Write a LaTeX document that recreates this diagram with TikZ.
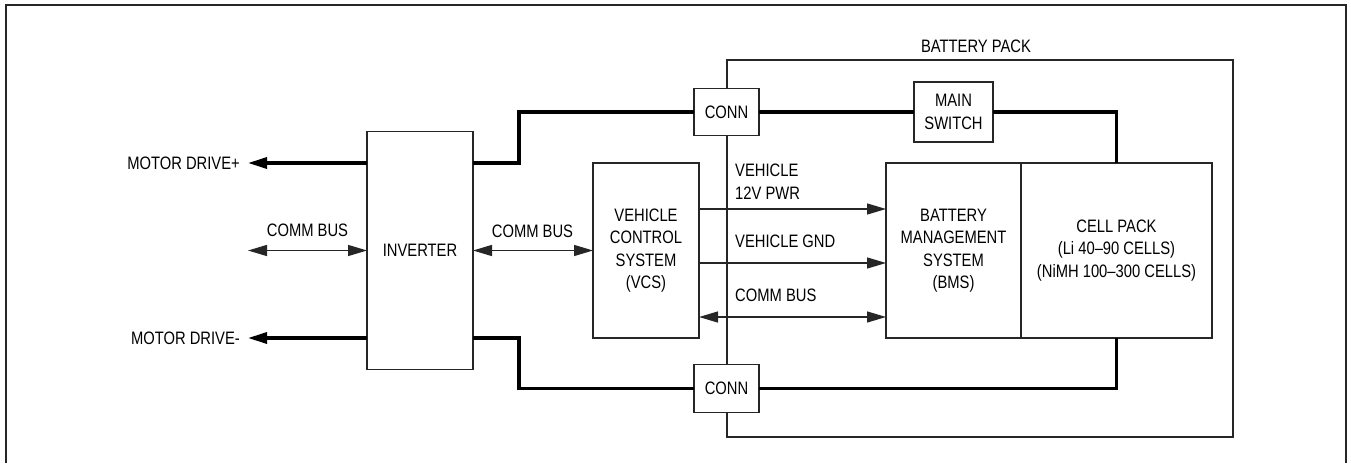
\documentclass[tikz,border=0pt]{standalone}
\usepackage{fontspec}
\setmainfont{Liberation Sans}[FakeStretch=0.82]
\usetikzlibrary{arrows.meta, positioning}
\newcommand{\blkfont}{\fontsize{18}{22.5}\selectfont}
\tikzset{
  block/.style={draw=black!85, line width=1.3pt, fill=white, inner sep=0pt,
                outer sep=0pt, align=center, font=\blkfont},
  lbl/.style={inner sep=0pt, align=left, font=\blkfont},
  wire/.style={line width=3.2pt, black},
  sig/.style={line width=1.3pt, black!85, -{Triangle[length=19pt, width=11pt]}},
  bus/.style={line width=1.3pt, black!85,
              {Triangle[length=19pt, width=11pt]}-{Triangle[length=19pt, width=11pt]}},
}

\begin{document}
\begin{tikzpicture}[x=1pt, y=-1pt]
  \useasboundingbox (0,0) rectangle (1351,463);
  % frame
  \draw[line width=2pt, black!85] (6,463) -- (6,5) -- (1346,5) -- (1346,463);

  % battery pack enclosure
  \node[draw=black!85, line width=1.3pt, minimum width=506pt, minimum height=377pt,
        inner sep=0pt, outer sep=0pt] (pack) at (980,248.5) {};
  \node[lbl, anchor=base] (packlbl) at (976,52) {BATTERY PACK};

  % main blocks
  \node[block, minimum width=106pt, minimum height=238pt] (inv) at (420,250.5) {INVERTER};
  \node[block, minimum width=106pt, minimum height=175pt] (vcs) at (646,250.5)
    {VEHICLE\\CONTROL\\SYSTEM\\(VCS)};
  \node[block, minimum width=135pt, minimum height=175pt] (bms) at (953.5,250.5)
    {BATTERY\\MANAGEMENT\\SYSTEM\\(BMS)};
  \node[block, minimum width=191pt, minimum height=175pt, right=0pt of bms] (cell)
    {CELL PACK\\(Li 40–90 CELLS)\\(NiMH 100–300 CELLS)};
  \node[block, minimum width=79pt, minimum height=60pt] (msw) at (953.5,112) {MAIN\\SWITCH};
  \node[block, minimum width=65pt, minimum height=47pt] (connT) at (726.5,112) {CONN};
  \node[block, minimum width=65pt, minimum height=48pt] (connB) at (726.5,388.5) {CONN};

  % high voltage wiring
  \draw[wire] (inv.east |- vcs.north) -- ++(46,0) |- (connT.west);
  \draw[wire] (connT.east) -- (msw.west);
  \draw[wire] (msw.east) -| (cell.north);
  \draw[wire] (inv.east |- vcs.south) -- ++(46,0) |- (connB.west);
  \draw[wire] (connB.east) -| (cell.south);

  % motor outputs
  \node[lbl, anchor=east, inner xsep=8pt] (mdp) at (248,163) {MOTOR DRIVE+};
  \node[lbl, anchor=east, inner xsep=8pt] (mdm) at (248,338) {MOTOR DRIVE-};
  \draw[wire, -{Triangle[length=19pt, width=11pt]}] (inv.west |- mdp) -- (mdp.east);
  \draw[wire, -{Triangle[length=19pt, width=11pt]}] (inv.west |- mdm) -- (mdm.east);

  % comm buses
  \coordinate (cbL) at (248,250.5);
  \draw[bus] (cbL) -- (inv.west);
  \node[lbl, anchor=base] (cbLlbl) at (307.5,236) {COMM BUS};
  \draw[bus] (inv.east) -- (vcs.west);
  \node[lbl, anchor=base] (cbMlbl) at (532.5,237) {COMM BUS};

  % vcs to bms
  \coordinate (y12) at (0,209);
  \coordinate (ygnd) at (0,263);
  \coordinate (ycb) at (0,317);
  \draw[sig] (vcs.east |- y12) -- (bms.west |- y12);
  \draw[sig] (vcs.east |- ygnd) -- (bms.west |- ygnd);
  \draw[bus] (vcs.east |- ycb) -- (bms.west |- ycb);
  \node[lbl, anchor=north west] (l12) at (735,164) {VEHICLE\\12V PWR};
  \node[lbl, anchor=north west] (lgnd) at (735,235) {VEHICLE GND};
  \node[lbl, anchor=north west] (lcb) at (735,289) {COMM BUS};
\end{tikzpicture}
\end{document}
